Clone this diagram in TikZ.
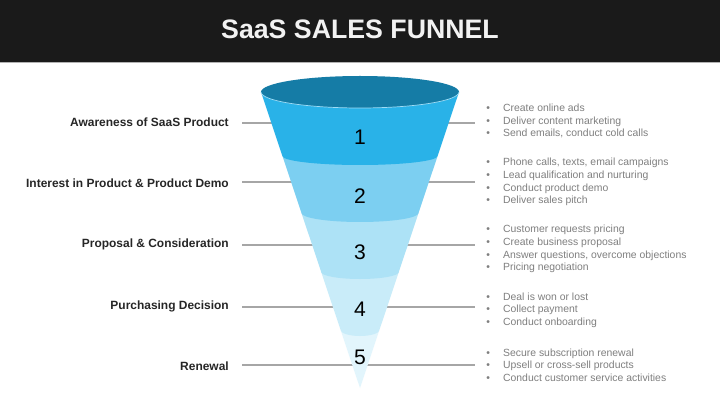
\documentclass[tikz,border=0pt]{standalone}
\usepackage{fontspec}
\setmainfont{Liberation Sans}
\usetikzlibrary{positioning}

\definecolor{barblack}{HTML}{1A1A1A}
\definecolor{rimblue}{HTML}{157CA6}
\definecolor{bandone}{HTML}{29B2E8}
\definecolor{bandtwo}{HTML}{7CCFF1}
\definecolor{bandthree}{HTML}{ADE2F6}
\definecolor{bandfour}{HTML}{C9ECF9}
\definecolor{bandfive}{HTML}{E2F5FC}
\definecolor{guidegray}{HTML}{A6A6A6}
\definecolor{notegray}{HTML}{7F7F7F}
\definecolor{labelblack}{HTML}{262626}

\newcommand{\bitem}[1]{\makebox[12pt][l]{\textbullet}#1}

\begin{document}
\begin{tikzpicture}[x=0.025cm, y=-0.025cm,
        guide/.style={draw=guidegray, line width=1pt},
        stage/.style={anchor=base east, inner sep=0pt, text=labelblack,
            font=\fontsize{8.5}{10}\selectfont\bfseries},
        notes/.style={anchor=west, inner sep=0pt, align=left, text=notegray,
            font=\fontsize{7.4}{9.0}\selectfont},
        num/.style={inner sep=0pt, text=black, font=\fontsize{15}{18}\selectfont}]

        \useasboundingbox (0,0) rectangle (720,405);
        \fill[white] (0,0) rectangle (720,405);

        % Header bar
        \fill[barblack] (0,0) rectangle (720,62);
        \draw[gray!60, line width=0.8pt] (0,62.4) -- (720,62.4);
        \node[text=white!95!black, font=\fontsize{19}{22}\selectfont\bfseries] (title) at (360,29) {SaaS SALES FUNNEL};

        % Guide lines (behind the funnel)
        \coordinate (l1) at (242,123); \coordinate (r1) at (475,123);
        \coordinate (l2) at (242,182); \coordinate (r2) at (475,182);
        \coordinate (l3) at (242,245); \coordinate (r3) at (475,245);
        \coordinate (l4) at (242,307); \coordinate (r4) at (475,307);
        \coordinate (l5) at (242,365); \coordinate (r5) at (475,365);
        \draw[guide] (l1) -- (r1);
        \draw[guide] (l2) -- (r2);
        \draw[guide] (l3) -- (r3);
        \draw[guide] (l4) -- (r4);
        \draw[guide] (l5) -- (r5);

        % Funnel bands, from the tip upwards
        \fill[bandfive] (340.6,330) -- (360,388) -- (379.4,330) -- cycle;
        \fill[bandfour] (321.2,272) -- (340.6,330) arc[start angle=180, end angle=0, x radius=19.4, y radius=6] -- (398.8,272) -- cycle;
        \fill[bandthree] (301.47,213) -- (321.2,272) arc[start angle=180, end angle=0, x radius=38.8, y radius=7] -- (418.53,213) -- cycle;
        \fill[bandtwo] (282.41,156) -- (301.47,213) arc[start angle=180, end angle=0, x radius=58.53, y radius=9] -- (437.59,156) -- cycle;
        \fill[bandone] (261,92) -- (282.41,156) arc[start angle=180, end angle=0, x radius=77.59, y radius=9] -- (459,92) -- cycle;

        % Funnel rim
        \fill[rimblue] (360,92) ellipse[x radius=99, y radius=16];
        \draw[white!55!bandone, line width=0.5pt] (261,92) arc[start angle=180, end angle=0, x radius=99, y radius=16];

        % Stage numbers
        \node[num] (n1) at (360,137.5) {1};
        \node[num] (n2) at (360,196) {2};
        \node[num] (n3) at (360,252) {3};
        \node[num] (n4) at (360,309) {4};
        \node[num] (n5) at (360,357) {5};

        % Stage names
        \node[stage] (lab1) at (229,127) {Awareness of SaaS Product};
        \node[stage] (lab2) at (229,188) {Interest in Product \& Product Demo};
        \node[stage] (lab3) at (229,248) {Proposal \& Consideration};
        \node[stage] (lab4) at (229,309) {Purchasing Decision};
        \node[stage] (lab5) at (229,370) {Renewal};

        % Activities per stage
        \node[notes] (txt1) at (486,121) {\bitem{Create online ads}\\\bitem{Deliver content marketing}\\\bitem{Send emails, conduct cold calls}};
        \node[notes] (txt2) at (486,182) {\bitem{Phone calls, texts, email campaigns}\\\bitem{Lead qualification and nurturing}\\\bitem{Conduct product demo}\\\bitem{Deliver sales pitch}};
        \node[notes] (txt3) at (486,249) {\bitem{Customer requests pricing}\\\bitem{Create business proposal}\\\bitem{Answer questions, overcome objections}\\\bitem{Pricing negotiation}};
        \node[notes] (txt4) at (486,310) {\bitem{Deal is won or lost}\\\bitem{Collect payment}\\\bitem{Conduct onboarding}};
        \node[notes] (txt5) at (486,365) {\bitem{Secure subscription renewal}\\\bitem{Upsell or cross-sell products}\\\bitem{Conduct customer service activities}};
    \end{tikzpicture}
\end{document}
